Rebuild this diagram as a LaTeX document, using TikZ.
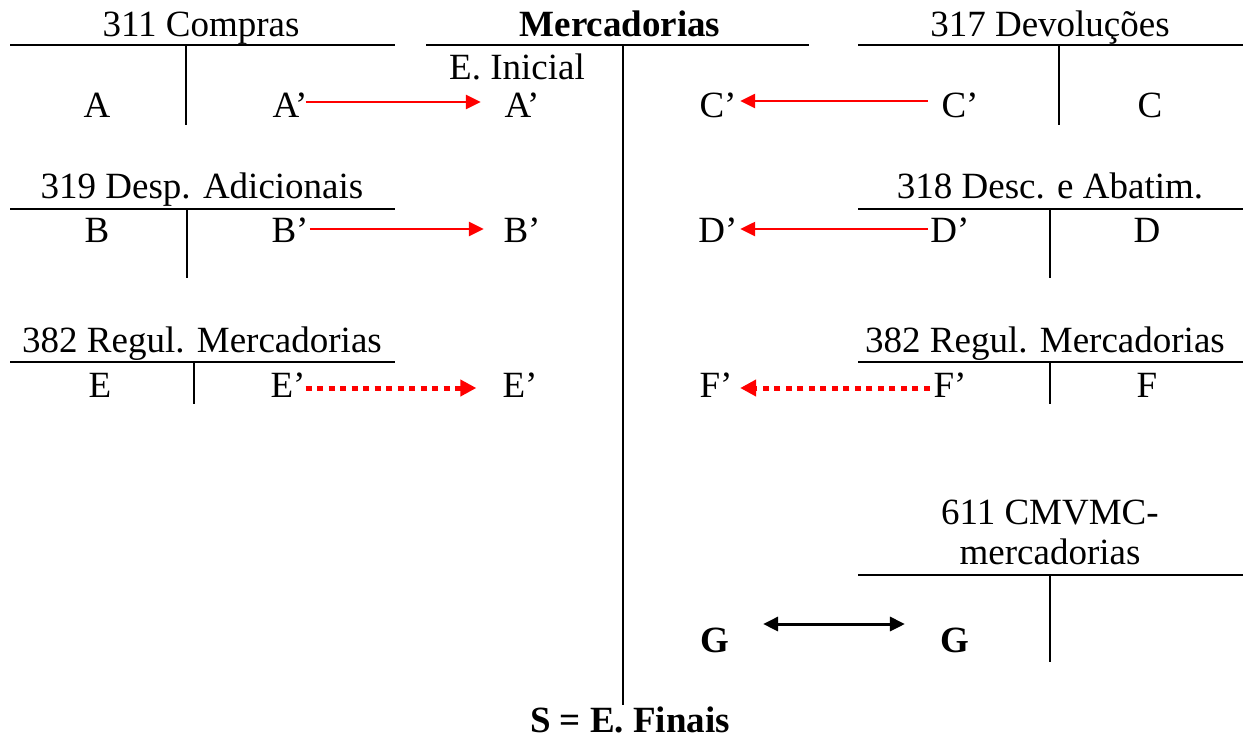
\documentclass[tikz,border=0pt]{standalone}
\usepackage{fontspec}
\setmainfont{Liberation Serif}
\usetikzlibrary{arrows.meta,calc}
\begin{document}
\begin{tikzpicture}[x=1pt,y=-1pt,
  txt/.style={inner sep=0pt,anchor=base,font=\fontsize{37}{42}\selectfont},
  btxt/.style={txt,font=\fontsize{37}{42}\selectfont\bfseries},
  tline/.style={line width=2.4pt,black},
  redarrow/.style={red,line width=2.5pt,-{Triangle[length=15pt,width=14pt]}},
  reddots/.style={red,line width=5pt,dash pattern=on 6pt off 5.5pt,-{Triangle[length=16pt,width=16pt]}},
  blackarrow/.style={black,line width=3pt,{Triangle[length=15pt,width=14pt]}-{Triangle[length=15pt,width=14pt]}}
]
\useasboundingbox (0,0) rectangle (1243,740);

% ---- 311 Compras
\node[txt] (t311) at (201,36) {311 Compras};
\coordinate (l311a) at (10,45); \coordinate (l311b) at (395,45);
\coordinate (v311a) at (186,45); \coordinate (v311b) at (186,125);
\draw[tline] (l311a) -- (l311b);
\draw[tline] (v311a) -- (v311b);
\node[txt] (a1) at (97,117) {A};
\node[txt] (a2) at (290,117) {A’};

% ---- Mercadorias
\node[btxt] (tmerc) at (620,36) {Mercadorias};
\coordinate (lma) at (426,45); \coordinate (lmb) at (809,45);
\coordinate (vma) at (623,45); \coordinate (vmb) at (623,705);
\draw[tline] (lma) -- (lmb);
\draw[tline] (vma) -- (vmb);
\node[txt] (einicial) at (517,79) {E. Inicial};
\node[txt] (ma) at (522,117) {A’};
\node[txt] (mc) at (718,117) {C’};
\node[txt] (mb) at (522,242) {B’};
\node[txt] (md) at (718,242) {D’};
\node[txt] (me) at (520,397) {E’};
\node[txt] (mf) at (716,397) {F’};
\node[btxt] (g1) at (715,652) {G};
\node[btxt] (sfin) at (630,732) {S = E. Finais};

% ---- 317 Devoluções
\node[txt] (t317) at (1050,36) {317 Devoluções};
\coordinate (l317a) at (858,45); \coordinate (l317b) at (1243,45);
\coordinate (v317a) at (1059,45); \coordinate (v317b) at (1059,125);
\draw[tline] (l317a) -- (l317b);
\draw[tline] (v317a) -- (v317b);
\node[txt] (c2) at (960,117) {C’};
\node[txt] (c1) at (1150,117) {C};

% ---- 319 Desp. Adicionais
\node[txt] (t319) at (202,198) {319 Desp. Adicionais};
\coordinate (l319a) at (10,209); \coordinate (l319b) at (395,209);
\coordinate (v319a) at (187,209); \coordinate (v319b) at (187,278);
\draw[tline] (l319a) -- (l319b);
\draw[tline] (v319a) -- (v319b);
\node[txt] (b1) at (97,242) {B};
\node[txt] (b2) at (290,242) {B’};

% ---- 318 Desc. e Abatim.
\node[txt] (t318) at (1050,198) {318 Desc. e Abatim.};
\coordinate (l318a) at (858,209); \coordinate (l318b) at (1243,209);
\coordinate (v318a) at (1050,209); \coordinate (v318b) at (1050,278);
\draw[tline] (l318a) -- (l318b);
\draw[tline] (v318a) -- (v318b);
\node[txt] (d2) at (950,242) {D’};
\node[txt] (d1) at (1147,242) {D};

% ---- 382 Regul. Mercadorias (left)
\node[txt] (t382l) at (202,352) {382 Regul. Mercadorias};
\coordinate (l382a) at (10,362); \coordinate (l382b) at (395,362);
\coordinate (v382a) at (194,362); \coordinate (v382b) at (194,404);
\draw[tline] (l382a) -- (l382b);
\draw[tline] (v382a) -- (v382b);
\node[txt] (e1) at (100,397) {E};
\node[txt] (e2) at (288,397) {E’};

% ---- 382 Regul. Mercadorias (right)
\node[txt] (t382r) at (1045,352) {382 Regul. Mercadorias};
\coordinate (r382a) at (858,362); \coordinate (r382b) at (1243,362);
\coordinate (w382a) at (1050,362); \coordinate (w382b) at (1050,404);
\draw[tline] (r382a) -- (r382b);
\draw[tline] (w382a) -- (w382b);
\node[txt] (f2) at (950,397) {F’};
\node[txt] (f1) at (1147,397) {F};

% ---- 611 CMVMC-mercadorias
\node[txt,align=center,anchor=base,font=\fontsize{37}{40}\selectfont] (t611) at (1050,564) {611 CMVMC-\\mercadorias};
\coordinate (l611a) at (858,575); \coordinate (l611b) at (1243,575);
\coordinate (v611a) at (1050,575); \coordinate (v611b) at (1050,662);
\draw[tline] (l611a) -- (l611b);
\draw[tline] (v611a) -- (v611b);
\node[btxt] (g2) at (955,652) {G};

% ---- connectors
\draw[redarrow] ($(a2.base east)+(-2,-15)$) -- ($(ma.base west)+(-23.5,-15)$);
\draw[redarrow] ($(b2.base east)+(1,-13)$) -- ($(mb.base west)+(-19.5,-13)$);
\draw[reddots] ($(e2.base east)+(0,-9)$) -- ($(me.base west)+(-26,-9)$);
\draw[redarrow] ($(c2.base west)+(-13.5,-16)$) -- ($(mc.base east)+(3.5,-16)$);
\draw[redarrow] ($(d2.base west)+(-2.5,-13)$) -- ($(md.base east)+(2.5,-13)$);
\draw[reddots] ($(f2.base west)+(-3.5,-9)$) -- ($(mf.base east)+(7.5,-9)$);
\draw[blackarrow] ($(g1.base east)+(33.5,-28)$) -- ($(g2.base west)+(-35.5,-28)$);
\end{tikzpicture}
\end{document}
